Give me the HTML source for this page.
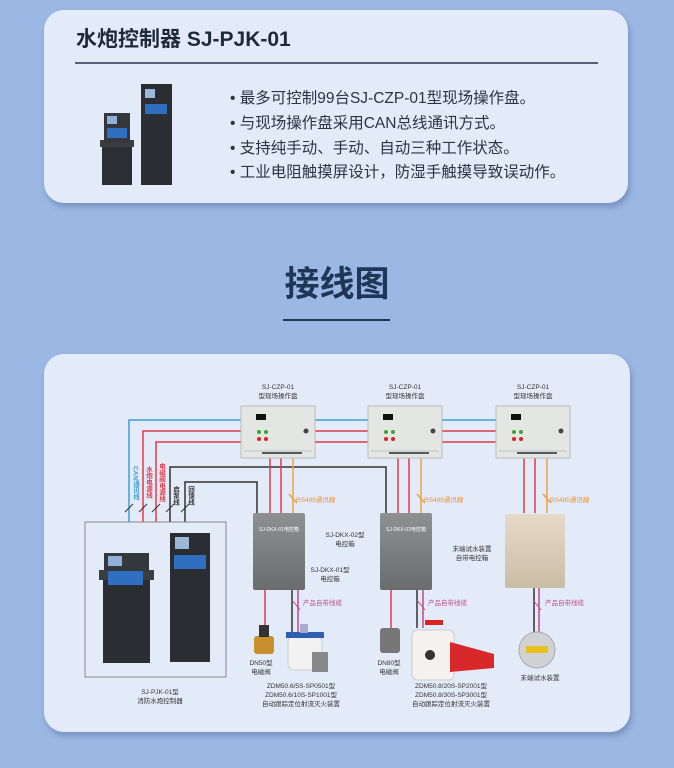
<!DOCTYPE html>
<html><head><meta charset="utf-8"><style>
html,body{margin:0;padding:0}
body{width:674px;height:768px;background:#9bb7e4;position:relative;overflow:hidden;font-family:"Liberation Sans","Noto Sans CJK SC",sans-serif}
.card{position:absolute;background:#e3ebf8;border-radius:20px;box-shadow:2px 4px 6px rgba(60,80,130,.35)}
</style></head><body>
<div class="card" style="left:44px;top:10px;width:584px;height:193px"></div>
<div class="card" style="left:44px;top:354px;width:586px;height:378px"></div>
<svg width="674" height="768" style="position:absolute;left:0;top:0" font-family="Liberation Sans, Noto Sans CJK SC, sans-serif">
<text x="76" y="46" font-size="21" font-weight="bold" fill="#1e2a3a">水炮控制器 SJ-PJK-01</text>
<line x1="75" y1="63" x2="598" y2="63" stroke="#2a3548" stroke-width="1.5"/>
<rect x="102" y="145" width="30" height="40" fill="#2b2e33"/><rect x="100" y="140" width="34" height="7" fill="#3a3d42"/><rect x="104" y="113" width="26" height="30" fill="#34373c"/><rect x="107" y="116" width="10" height="8" fill="#8fb0d8"/><rect x="107" y="128" width="20" height="10" fill="#2e6fc0"/>
<rect x="141" y="84" width="31" height="101" fill="#2a2d31"/><rect x="145" y="89" width="10" height="9" fill="#9bb8d8"/><rect x="145" y="104" width="22" height="10" fill="#2e6fc0"/>
<g font-size="15.5" fill="#2a3443">
<text x="230" y="103">• 最多可控制99台SJ-CZP-01型现场操作盘。</text>
<text x="230" y="128">• 与现场操作盘采用CAN总线通讯方式。</text>
<text x="230" y="153">• 支持纯手动、手动、自动三种工作状态。</text>
<text x="230" y="177">• 工业电阻触摸屏设计，防湿手触摸导致误动作。</text>
</g>
<text x="337" y="296" font-size="35" font-weight="bold" fill="#1f3656" text-anchor="middle">接线图</text>
<line x1="283" y1="320" x2="390" y2="320" stroke="#1f3656" stroke-width="2"/>

<g fill="none" stroke-width="1.5">
<polyline points="129,522 129,420 496,420" stroke="#3aa0d8"/>
<polyline points="143,522 143,431 496,431" stroke="#e23a4a"/>
<polyline points="156,522 156,442 496,442" stroke="#e23a4a"/>
<polyline points="170,522 170,467 386,467 386,513" stroke="#333"/>
<polyline points="185,522 185,482 257,482 257,513" stroke="#333"/>
<g stroke="#e23a4a"><line x1="270" y1="458" x2="270" y2="513"/><line x1="281" y1="458" x2="281" y2="513"/><line x1="398" y1="458" x2="398" y2="513"/><line x1="409" y1="458" x2="409" y2="513"/><line x1="524" y1="458" x2="524" y2="513"/><line x1="535" y1="458" x2="535" y2="513"/></g>
<g stroke="#f0a040"><line x1="293" y1="458" x2="293" y2="513"/><line x1="421" y1="458" x2="421" y2="513"/><line x1="547" y1="458" x2="547" y2="513"/>
<line x1="289" y1="494" x2="297" y2="503"/><line x1="417" y1="494" x2="425" y2="503"/><line x1="543" y1="494" x2="551" y2="503"/></g>
<g stroke="#333" stroke-width="1"><line x1="125" y1="512" x2="133" y2="504"/><line x1="139" y1="512" x2="147" y2="504"/><line x1="152" y1="512" x2="160" y2="504"/><line x1="166" y1="512" x2="174" y2="504"/><line x1="181" y1="512" x2="189" y2="504"/></g>
<line x1="265" y1="590" x2="265" y2="630" stroke="#e23a4a"/><line x1="292" y1="590" x2="292" y2="632" stroke="#333"/><line x1="298" y1="590" x2="298" y2="632" stroke="#c04a8a"/>
<line x1="391" y1="590" x2="391" y2="630" stroke="#e23a4a"/><line x1="417" y1="590" x2="417" y2="628" stroke="#333"/><line x1="423" y1="590" x2="423" y2="628" stroke="#c04a8a"/>
<line x1="534" y1="588" x2="534" y2="632" stroke="#333"/><line x1="539" y1="588" x2="539" y2="632" stroke="#c04a8a"/>
<g stroke="#c04a8a" stroke-width="1"><line x1="292" y1="600" x2="300" y2="610"/><line x1="417" y1="600" x2="425" y2="610"/><line x1="533" y1="600" x2="541" y2="610"/></g>
</g>
<g font-size="6.5">
<text x="296" y="502" fill="#f09030">RS485通讯線</text><text x="424" y="502" fill="#f09030">RS485通讯線</text><text x="550" y="502" fill="#f09030">RS485通讯線</text>
<text x="303" y="605" fill="#c04a8a">产品自带线缆</text><text x="428" y="605" fill="#c04a8a">产品自带线缆</text><text x="545" y="605" fill="#c04a8a">产品自带线缆</text>
</g>
<g font-size="6.5" font-weight="bold" writing-mode="tb">
<text x="135" y="466" fill="#3aa0d8">CAN通讯线</text><text x="148" y="466" fill="#e23a4a">水炮电源线</text><text x="161" y="463" fill="#e23a4a">电磁阀电源线</text><text x="175" y="486" fill="#333">启泵线</text><text x="190" y="486" fill="#333">回馈线</text>
</g>
<g>
<g id="p"><rect x="241" y="406" width="74" height="52" fill="#e4e6e4" stroke="#bbb"/><rect x="256" y="414" width="10" height="6" fill="#111"/><circle cx="259" cy="432" r="2" fill="#3a3"/><circle cx="266" cy="432" r="2" fill="#3a3"/><circle cx="259" cy="439" r="2" fill="#d22"/><circle cx="266" cy="439" r="2" fill="#d22"/><circle cx="306" cy="431" r="2.5" fill="#444"/><line x1="244" y1="451" x2="312" y2="451" stroke="#999" stroke-width=".5"/><rect x="262" y="452" width="40" height="2" fill="#556"/></g>
<use href="#p" x="127"/><use href="#p" x="255"/>
</g>
<g font-size="6.5" fill="#333" text-anchor="middle">
<text x="278" y="389">SJ-CZP-01</text><text x="278" y="398">型现场操作盘</text>
<text x="405" y="389">SJ-CZP-01</text><text x="405" y="398">型现场操作盘</text>
<text x="533" y="389">SJ-CZP-01</text><text x="533" y="398">型现场操作盘</text>
<text x="345" y="537">SJ-DKX-02型</text><text x="345" y="546">电控箱</text>
<text x="472" y="551">末端试水装置</text><text x="472" y="560">自带电控箱</text>
<text x="330" y="572">SJ-DKX-01型</text><text x="330" y="581">电控箱</text>
<text x="261" y="665">DN50型</text><text x="261" y="674">电磁阀</text>
<text x="389" y="665">DN80型</text><text x="389" y="674">电磁阀</text>
<text x="540" y="680">末端试水装置</text>
<text x="160" y="694">SJ-PJK-01型</text><text x="160" y="703">消防水炮控制器</text>
<text x="301" y="688">ZDM50.6/5S-SP0501型</text><text x="301" y="697">ZDM50.6/10S-SP1001型</text><text x="301" y="706">自动跟踪定位射流灭火装置</text>
<text x="451" y="688">ZDM50.8/20S-SP2001型</text><text x="451" y="697">ZDM50.8/30S-SP3001型</text><text x="451" y="706">自动跟踪定位射流灭火装置</text>
</g>
<defs><linearGradient id="g" x1="0" y1="0" x2="0" y2="1"><stop offset="0" stop-color="#8e9092"/><stop offset="1" stop-color="#6a6c6e"/></linearGradient>
<linearGradient id="b" x1="0" y1="0" x2="0" y2="1"><stop offset="0" stop-color="#e6dac8"/><stop offset="1" stop-color="#cbbca4"/></linearGradient></defs>
<rect x="253" y="513" width="52" height="77" rx="2" fill="url(#g)"/><text x="279" y="531" font-size="5" fill="#fff" text-anchor="middle">SJ-DKX-01电控箱</text>
<rect x="380" y="513" width="52" height="77" rx="2" fill="url(#g)"/><text x="406" y="531" font-size="5" fill="#fff" text-anchor="middle">SJ-DKX-02电控箱</text>
<rect x="505" y="514" width="60" height="74" rx="2" fill="url(#b)"/>
<rect x="85" y="522" width="141" height="155" fill="none" stroke="#888" stroke-width="1"/>
<rect x="103" y="580" width="47" height="83" fill="#2a2d31"/><rect x="99" y="570" width="55" height="10" fill="#3a3d42"/><rect x="104" y="553" width="45" height="18" fill="#34373c"/><rect x="108" y="556" width="14" height="10" fill="#8fb0d8"/><rect x="108" y="571" width="35" height="14" fill="#2e6fc0"/>
<rect x="170" y="533" width="40" height="129" fill="#2a2d31"/><rect x="175" y="537" width="14" height="12" fill="#9bb8d8"/><rect x="174" y="555" width="32" height="14" fill="#2e6fc0"/>
<rect x="254" y="636" width="20" height="18" rx="3" fill="#c8902a"/><rect x="259" y="625" width="10" height="12" fill="#333"/>
<rect x="288" y="636" width="34" height="34" rx="6" fill="#f2f2f2" stroke="#ccc"/><rect x="286" y="632" width="38" height="6" fill="#2f5fb0"/><rect x="300" y="624" width="8" height="9" fill="#aac"/><rect x="312" y="652" width="16" height="20" fill="#888"/>
<rect x="380" y="628" width="20" height="25" rx="3" fill="#777"/>
<rect x="412" y="630" width="42" height="50" rx="5" fill="#f4f2ee" stroke="#ccc"/><rect x="425" y="620" width="18" height="5" fill="#d22"/><circle cx="430" cy="655" r="5" fill="#333"/><polygon points="450,642 494,654 494,668 450,672" fill="#d8282a"/>
<circle cx="537" cy="650" r="18" fill="#d0d2d4" stroke="#aaa"/><rect x="526" y="646" width="22" height="7" fill="#e8c020"/>
</svg>
</body></html>
